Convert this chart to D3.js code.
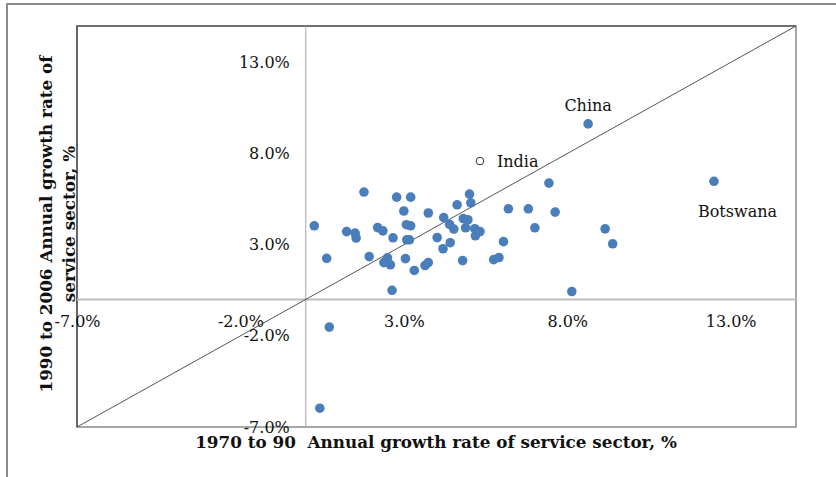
<!DOCTYPE html>
<html>
<head>
<meta charset="utf-8">
<script src="https://cdn.jsdelivr.net/npm/d3@7"></script>
<style>
  html, body { margin: 0; padding: 0; background: #fff; }
  svg { display: block; }
  text { font-family: "DejaVu Serif", "Liberation Serif", serif; fill: #111; }
</style>
</head>
<body>
<svg id="chart" width="836" height="477"></svg>
<script>
// Annual growth rate of the service sector (%), 1970-90 vs 1990-2006
const growth7090 = [
  0.26, 0.64, 1.78, 1.25, 1.51, 1.54, 1.94, 2.20, 2.36, 2.67,
  2.78, 3.21, 3.00, 3.08, 3.21, 3.09, 3.17, 2.50, 2.39, 2.59,
  3.05, 3.32, 2.64, 3.75, 3.65, 3.75, 4.02, 4.22, 4.40, 4.53,
  4.20, 4.42, 4.63, 5.01, 5.05, 4.82, 4.96, 4.89, 5.17, 5.33,
  5.19, 4.80, 6.05, 5.75, 5.91, 6.20, 7.44, 6.81, 7.63, 7.01,
  9.16, 9.39, 8.14, 0.72, 0.43
];
const growth9006 = [
  4.04, 2.25, 5.89, 3.72, 3.64, 3.37, 2.35, 3.94, 3.76, 3.38,
  5.61, 5.61, 4.85, 4.10, 4.04, 3.27, 3.27, 2.28, 2.02, 1.90,
  2.24, 1.59, 0.50, 4.74, 1.86, 2.02, 3.39, 4.49, 4.12, 3.86,
  2.78, 3.11, 5.19, 5.78, 5.30, 4.43, 4.37, 3.93, 3.88, 3.72,
  3.49, 2.13, 3.17, 2.18, 2.30, 4.97, 6.38, 4.97, 4.79, 3.93,
  3.87, 3.05, 0.43, -1.52, -5.97
];

// Labelled countries
const countryNames = ["China", "Botswana", "India"];
const country7090  = [8.64, 12.49, 5.33];
const country9006  = [9.63, 6.48, 7.59];

const tickValues = [-7, -2, 3, 8, 13];
const axisDomain = [-7, 15];

const svg = d3.select("#chart");

// Outer chart frame
svg.append("rect")
  .attr("x", 7).attr("y", 4)
  .attr("width", 850).attr("height", 490)
  .attr("fill", "none")
  .attr("stroke", "#8c8c8c")
  .attr("stroke-width", 2);

const plot = { left: 77, top: 26, right: 796, bottom: 427 };

const x = d3.scaleLinear().domain(axisDomain).range([plot.left, plot.right]);
const y = d3.scaleLinear().domain(axisDomain).range([plot.bottom, plot.top]);

// Plot area border: dark top/left edges, grey right/bottom edges
svg.append("rect")
  .attr("x", plot.left).attr("y", plot.top)
  .attr("width", plot.right - plot.left).attr("height", plot.bottom - plot.top)
  .attr("fill", "none")
  .attr("stroke", "#8a8a8a")
  .attr("stroke-width", 1.5);
svg.append("path")
  .attr("d", `M${plot.left},${plot.bottom}V${plot.top}H${plot.right}`)
  .attr("fill", "none")
  .attr("stroke", "#3a3a3a")
  .attr("stroke-width", 1.2);

// Zero axes
svg.append("line")
  .attr("x1", plot.left).attr("x2", plot.right)
  .attr("y1", y(0)).attr("y2", y(0))
  .attr("stroke", "#bdbdbd").attr("stroke-width", 2);
svg.append("line")
  .attr("x1", x(0)).attr("x2", x(0))
  .attr("y1", plot.top).attr("y2", plot.bottom)
  .attr("stroke", "#a6a6a6").attr("stroke-width", 1);

// 45-degree reference line
svg.append("line")
  .attr("x1", x(axisDomain[0])).attr("y1", y(axisDomain[0]))
  .attr("x2", x(axisDomain[1])).attr("y2", y(axisDomain[1]))
  .attr("stroke", "#555").attr("stroke-width", 1);

const pct = d => d.toFixed(1) + "%";

// X axis labels along the zero line
const xAxis = svg.append("g")
  .attr("transform", `translate(0,${y(0)})`)
  .call(d3.axisBottom(x).tickValues(tickValues).tickFormat(pct)
    .tickSize(0).tickPadding(16));
xAxis.select(".domain").remove();
xAxis.selectAll("text")
  .attr("font-family", "DejaVu Serif, serif")
  .attr("font-size", 16)
  .attr("fill", "#111");

// Y axis labels along the zero line
const yAxis = svg.append("g")
  .attr("transform", `translate(${x(0)},0)`)
  .call(d3.axisLeft(y).tickValues(tickValues).tickFormat(pct)
    .tickSize(0).tickPadding(16));
yAxis.select(".domain").remove();
yAxis.selectAll("text")
  .attr("font-family", "DejaVu Serif, serif")
  .attr("font-size", 16)
  .attr("fill", "#111");

// Country points
const pts = d3.range(growth7090.length).map(i => ({ gx: growth7090[i], gy: growth9006[i] }));
svg.append("g").selectAll("circle")
  .data(pts)
  .join("circle")
  .attr("cx", d => x(d.gx))
  .attr("cy", d => y(d.gy))
  .attr("r", 4.8)
  .attr("fill", "#4a7ebb");

// Labelled countries
const labelStyle = {
  China:    { dx: 0,   dy: -13, anchor: "middle" },
  Botswana: { dx: -16, dy: 36,  anchor: "start" },
  India:    { dx: 17,  dy: 6,   anchor: "start" }
};
countryNames.forEach((name, i) => {
  const cx = x(country7090[i]), cy = y(country9006[i]);
  if (name === "India") {
    svg.append("circle")
      .attr("cx", cx).attr("cy", cy).attr("r", 3.8)
      .attr("fill", "#fff").attr("stroke", "#333").attr("stroke-width", 1);
  } else {
    svg.append("circle")
      .attr("cx", cx).attr("cy", cy).attr("r", 4.8)
      .attr("fill", "#4a7ebb");
  }
  const s = labelStyle[name];
  svg.append("text")
    .attr("x", cx + s.dx).attr("y", cy + s.dy)
    .attr("text-anchor", s.anchor)
    .attr("font-size", 16)
    .text(name);
});

// Axis titles
svg.append("text")
  .attr("x", 436).attr("y", 448)
  .attr("text-anchor", "middle")
  .attr("font-weight", "bold")
  .attr("font-size", 16.8)
  .attr("xml:space", "preserve")
  .text("1970 to 90  Annual growth rate of service sector, %");

const yTitle = svg.append("text")
  .attr("transform", "translate(52,224) rotate(-90)")
  .attr("text-anchor", "middle")
  .attr("font-weight", "bold")
  .attr("font-size", 16.8);
yTitle.append("tspan").attr("x", 0).attr("y", 0).text("1990 to 2006 Annual growth rate of");
yTitle.append("tspan").attr("x", 0).attr("y", 23).text("service sector, %");
</script>
</body>
</html>
